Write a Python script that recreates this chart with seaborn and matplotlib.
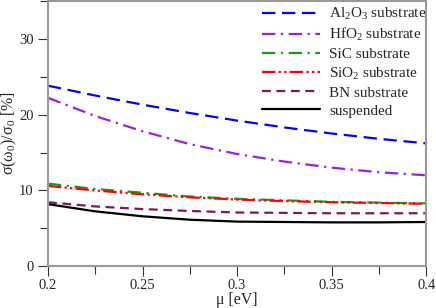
import seaborn as sns
import matplotlib.pyplot as plt
import pandas as pd
from matplotlib.ticker import MultipleLocator

mu = [0.2, 0.225, 0.25, 0.275, 0.3, 0.325, 0.35, 0.375, 0.4]
al2o3 = [23.8, 22.5, 21.3, 20.2, 19.2, 18.3, 17.5, 16.8, 16.2]
hfo2 = [22.2, 19.8, 17.8, 16.1, 14.8, 13.8, 13.0, 12.4, 12.0]
sic = [10.9, 10.2, 9.7, 9.2, 8.9, 8.7, 8.5, 8.4, 8.3]
sio2 = [10.6, 10.0, 9.5, 9.1, 8.8, 8.6, 8.45, 8.35, 8.25]
bn = [8.45, 7.9, 7.55, 7.3, 7.1, 7.05, 7.0, 7.0, 7.0]
suspended = [8.2, 7.25, 6.6, 6.15, 5.9, 5.85, 5.8, 5.8, 5.85]

labels = [r'Al$_2$O$_3$ substrate', r'HfO$_2$ substrate', 'SiC substrate',
          r'SiO$_2$ substrate', 'BN substrate', 'suspended']
series = [al2o3, hfo2, sic, sio2, bn, suspended]
colors = ['#0000ff', '#9b1fe0', '#1a9a1a', '#ff0000', '#7a1a5e', '#000000']
dashes = [(6, 3), (6, 2.5, 1, 2.5), (6, 2.5, 1, 2.5), (6, 1.5, 1, 1.5, 1, 1.5), (4, 2.5), None]

sns.set_style('white')
plt.rcParams['font.family'] = ['Liberation Serif', 'DejaVu Serif']
plt.rcParams['mathtext.fontset'] = 'custom'
plt.rcParams['mathtext.rm'] = 'Liberation Serif'
plt.rcParams['mathtext.it'] = 'Liberation Serif'

fig = plt.figure(figsize=(4.36, 3.08), dpi=100)
ax = fig.add_axes([0.110, 0.135, 0.868, 0.863])

for vals, lab, c, d in zip(series, labels, colors, dashes):
    df = pd.DataFrame({'mu': mu, 'val': vals})
    sns.lineplot(data=df, x='mu', y='val', ax=ax, color=c, label=lab, linewidth=1.6)
    l = ax.get_lines()[-1]
    if d is not None:
        l.set_dashes(d)

ax.set_xlim(0.2, 0.4)
ax.set_ylim(0, 35)
ax.set_xticks([0.2, 0.25, 0.3, 0.35, 0.4])
ax.set_xticklabels(['0.2', '0.25', '0.3', '0.35', '0.4'])
ax.set_yticks([0, 10, 20, 30])
ax.xaxis.set_minor_locator(MultipleLocator(0.025))
ax.yaxis.set_minor_locator(MultipleLocator(5))
ax.tick_params(which='both', direction='out', color='#333333', labelsize=10.5)
ax.tick_params(which='major', length=7, width=0.8)
ax.tick_params(which='minor', length=6, width=0.8)
ax.tick_params(axis='x', bottom=True, which='both', pad=2)
ax.tick_params(axis='y', left=True, which='both')
for s in ax.spines.values():
    s.set_color('#999999')
    s.set_linewidth(1.5)

ax.set_xlabel('μ [eV]', fontsize=11.5, labelpad=0)
ax.set_ylabel('σ(ω$_0$)/σ$_0$ [%]', fontsize=11.5, labelpad=0)

ax.legend(loc='upper right', bbox_to_anchor=(1.015, 1.0), frameon=False, fontsize=11,
          handlelength=3.8, labelspacing=0.28, borderaxespad=0.0, borderpad=0.35,
          handletextpad=0.6)

fig.savefig('out.png', dpi=100)
